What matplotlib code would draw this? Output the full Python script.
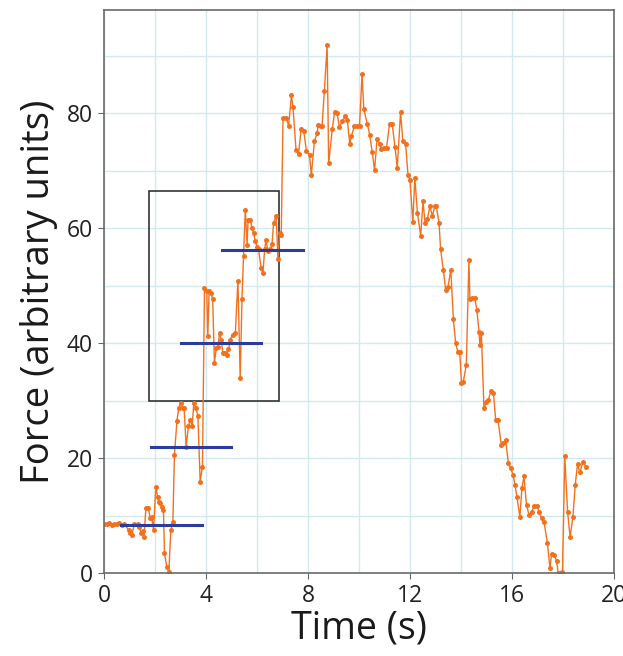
import numpy as np
import matplotlib.pyplot as plt

plt.rcParams['font.family'] = ['Open Sans', 'DejaVu Sans']

# force trace (time in s, force in arbitrary units)
time_s = [
    0.00, 0.10, 0.20, 0.30, 0.40, 0.50, 0.60, 0.70, 0.80,
    0.96, 1.02, 1.09, 1.19, 1.32, 1.39, 1.45, 1.52, 1.57, 1.64, 1.74,
    1.81, 1.87, 1.94, 2.03, 2.10, 2.14, 2.20, 2.27, 2.33, 2.37, 2.46,
    2.54, 2.62, 2.70, 2.76, 2.86, 2.93, 3.01, 3.09, 3.14, 3.22, 3.31,
    3.38, 3.46, 3.52, 3.60, 3.68, 3.77, 3.86,
    3.94, 4.03, 4.07, 4.12, 4.20, 4.26, 4.33, 4.40, 4.47, 4.53, 4.60,
    4.66, 4.75, 4.82, 4.88, 4.95, 5.04, 5.15, 5.25, 5.34, 5.41, 5.47,
    5.54, 5.61, 5.65, 5.74, 5.80, 5.87, 5.93, 6.00, 6.06, 6.16, 6.23,
    6.30, 6.35, 6.43, 6.52, 6.59, 6.65, 6.75, 6.82, 6.89, 6.95,
    7.02, 7.15, 7.24, 7.35, 7.41, 7.53, 7.63, 7.73, 7.83, 7.94, 8.06,
    8.13, 8.25, 8.36, 8.40, 8.49, 8.55, 8.64, 8.75, 8.81, 8.95, 9.04,
    9.14, 9.23, 9.34, 9.47, 9.54, 9.64, 9.70, 9.82, 9.93, 10.02, 10.12,
    10.19, 10.32, 10.42, 10.52, 10.61, 10.71, 10.81, 10.88, 10.97, 11.08,
    11.20, 11.30, 11.41, 11.50, 11.63, 11.72, 11.83, 11.92, 12.00, 12.11,
    12.19, 12.29, 12.42, 12.51, 12.59, 12.68, 12.78, 12.88, 12.97, 13.03,
    13.14, 13.20, 13.31, 13.40, 13.49, 13.60, 13.70, 13.79, 13.88, 13.95,
    14.02, 14.09, 14.21, 14.31, 14.35, 14.45, 14.54, 14.62, 14.71, 14.74,
    14.80, 14.90, 15.00, 15.07, 15.17, 15.27, 15.36, 15.45, 15.58, 15.66,
    15.75, 15.86, 15.95, 16.04, 16.12, 16.19, 16.31, 16.39, 16.47, 16.57,
    16.67, 16.77, 16.87, 16.97, 17.06, 17.16, 17.26, 17.39, 17.49, 17.55,
    17.65, 17.75, 17.81, 17.92, 17.98, 18.07, 18.18, 18.28, 18.39, 18.48,
    18.57, 18.66, 18.79, 18.90,
]
force = [
    8.6, 8.5, 8.7, 8.4, 8.6, 8.5, 8.7, 8.4, 8.5,
    7.5, 6.9, 6.6, 8.5, 8.5, 8.0, 6.9, 7.3, 6.2, 11.3, 11.3,
    9.6, 9.7, 7.5, 15.0, 13.3, 12.4, 12.2, 11.5, 11.0, 3.4, 1.1,
    0.1, 7.5, 8.9, 20.6, 26.5, 28.7, 29.6, 28.7, 28.7, 22.0, 25.5,
    26.7, 25.5, 29.6, 28.7, 27.4, 15.9, 18.5,
    49.6, 49.0, 41.2, 49.0, 48.7, 47.6, 36.6, 39.1, 39.4, 41.8, 40.6,
    38.2, 38.3, 38.0, 38.9, 40.6, 41.5, 41.8, 50.9, 33.9, 47.6, 55.1,
    63.2, 57.1, 61.5, 61.5, 60.1, 59.2, 57.7, 56.8, 56.3, 53.1, 52.2,
    56.3, 57.9, 56.0, 56.3, 57.3, 60.9, 62.2, 54.7, 59.2, 58.9,
    79.2, 79.2, 77.8, 83.1, 81.1, 73.6, 73.0, 77.2, 77.0, 73.4, 72.7,
    69.2, 75.1, 76.6, 78.0, 77.8, 77.8, 83.9, 91.8, 71.3, 77.2, 80.2,
    80.0, 77.6, 78.6, 79.5, 78.9, 74.6, 76.0, 77.8, 77.8, 77.8, 86.8,
    80.7, 78.2, 76.3, 73.2, 70.1, 75.6, 74.6, 73.7, 74.0, 74.0,
    78.2, 78.2, 74.2, 70.5, 80.2, 75.1, 74.6, 69.3, 68.4, 61.0,
    68.8, 62.7, 58.7, 64.7, 60.9, 61.6, 63.8, 62.1, 63.8, 63.8,
    60.9, 56.3, 52.7, 49.2, 49.8, 52.8, 44.2, 40.0, 38.4, 38.4,
    33.0, 33.3, 36.2, 54.5, 47.7, 47.9, 47.9, 45.8, 41.9, 39.7,
    41.8, 28.7, 29.8, 30.1, 31.6, 31.4, 26.7, 26.7, 22.3, 22.6,
    23.2, 19.1, 18.2, 17.1, 15.3, 13.3, 9.8, 14.8, 16.8, 11.8,
    10.1, 10.7, 11.7, 11.7, 10.7, 9.5, 8.8, 5.2, 0.8, 3.3,
    3.1, 2.1, 0.0, 0.0, 0.2, 20.3, 10.7, 6.2, 9.8, 15.3,
    18.9, 17.5, 19.4, 18.5,
]

# step averages (blue bars): level, start, end
step_level = [8.4, 22.0, 40.0, 56.2]
step_start = [0.67, 1.85, 3.03, 4.64]
step_end = [3.85, 4.98, 6.17, 7.79]

# highlighted box
box_t = [1.75, 6.85]
box_f = [30.0, 66.5]

fig = plt.figure(figsize=(6.23, 6.56), dpi=100)
ax = fig.add_axes([0.167, 0.1265, 0.8185, 0.8585])

ax.set_xticks(np.arange(0, 21, 2), minor=True)
ax.set_yticks(np.arange(0, 100, 10), minor=True)
ax.grid(True, which='both', color='#d4e9ef', linewidth=1.0)
ax.set_axisbelow(True)

ax.plot(time_s, force, color='#f2711e', linewidth=1.0, marker='o',
        markersize=3.6, markeredgewidth=0)

for lvl, s, e in zip(step_level, step_start, step_end):
    ax.plot([s, e], [lvl, lvl], color='#2a3c9c', linewidth=2.2)

ax.add_patch(plt.Rectangle((box_t[0], box_f[0]), box_t[1] - box_t[0],
                           box_f[1] - box_f[0], fill=False,
                           edgecolor='#222222', linewidth=1.1))

ax.set_xlim(0, 20)
ax.set_ylim(0, 98)
ax.set_xticks([0, 4, 8, 12, 16, 20])
ax.set_yticks([0, 20, 40, 60, 80])
ax.tick_params(which='major', length=4, color='#666666', labelsize=16.5,
               labelcolor='#222222', pad=4)
ax.tick_params(which='minor', length=0)
for sp in ax.spines.values():
    sp.set_color('#6a6a6a')
    sp.set_linewidth(1.2)

ax.set_xlabel('Time (s)', fontsize=27, labelpad=1, color='#1a1a1a')
ax.set_ylabel('Force (arbitrary units)', fontsize=27.5, labelpad=6,
              color='#1a1a1a')

fig.savefig('out.png', dpi=100)
